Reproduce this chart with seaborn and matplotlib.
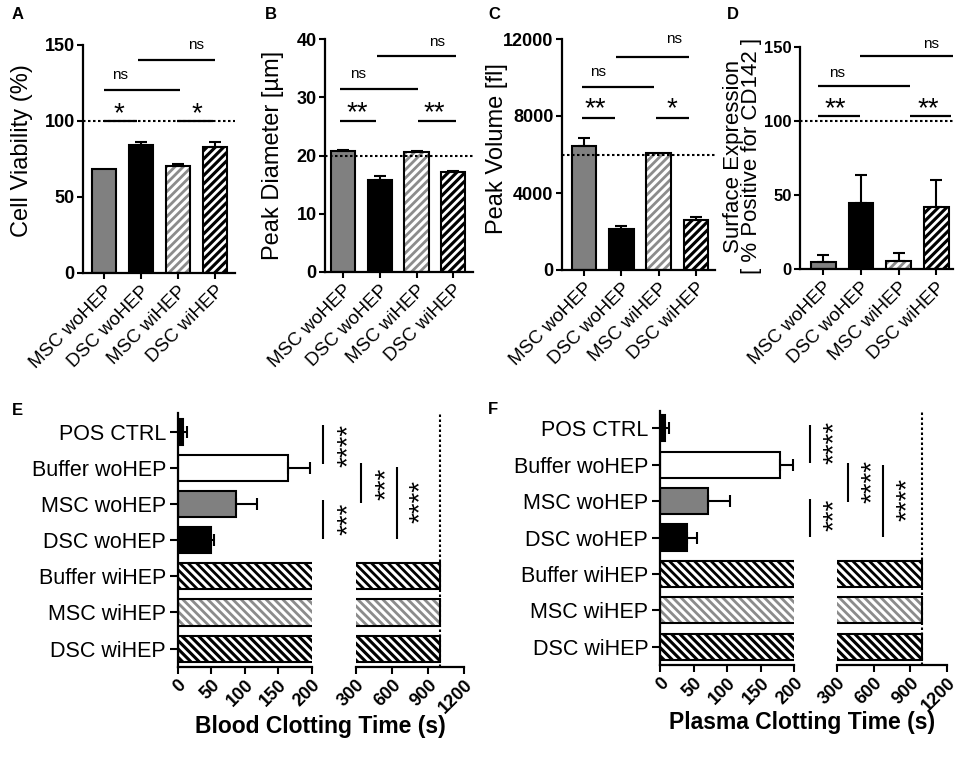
import numpy as np
import pandas as pd
import matplotlib
matplotlib.use("Agg")
import matplotlib.pyplot as plt
import seaborn as sns
from matplotlib.patches import Rectangle
from matplotlib.transforms import blended_transform_factory, offset_copy

# ---------------- data ----------------
cell_groups = ["MSC woHEP", "DSC woHEP", "MSC wiHEP", "DSC wiHEP"]
viability_mean = [68.5, 84.0, 70.6, 83.2]
viability_err = [0.0, 2.0, 1.0, 2.8]
diameter_mean = [20.8, 15.8, 20.6, 17.2]
diameter_err = [0.2, 0.7, 0.15, 0.1]
volume_mean = [6450, 2110, 6100, 2600]
volume_err = [420, 170, 0, 170]
cd142_mean = [4.7, 44.5, 5.6, 42.2]
cd142_err = [4.9, 19.0, 5.2, 18.0]

clot_groups = ["POS CTRL", "Buffer woHEP", "MSC woHEP", "DSC woHEP",
               "Buffer wiHEP", "MSC wiHEP", "DSC wiHEP"]
blood_mean = [8, 164, 87, 49.5, 1000, 1000, 1000]
blood_err = [6, 34, 31.5, 5, 0, 0, 0]
plasma_mean = [8, 178.7, 72, 40.7, 1000, 1000, 1000]
plasma_err = [6, 20, 32, 15, 0, 0, 0]

viability_ref = 100
diameter_ref = 20
volume_ref = 6000
cd142_ref = 100
clot_ref = 1000

# ---------------- style ----------------
sns.set_theme(style="ticks")
plt.rcParams["font.family"] = ["Liberation Sans", "DejaVu Sans"]
plt.rcParams["hatch.linewidth"] = 2.0
plt.rcParams["axes.linewidth"] = 1.6
plt.rcParams["xtick.major.width"] = 1.5
plt.rcParams["ytick.major.width"] = 1.5
plt.rcParams["xtick.color"] = "black"
plt.rcParams["ytick.color"] = "black"
plt.rcParams["axes.edgecolor"] = "black"
plt.rcParams["text.color"] = "black"
plt.rcParams["axes.labelcolor"] = "black"

cell_fill = ["#808080", "black", "white", "black"]
cell_hatch = [None, None, "////", "////"]
cell_hcol = [None, None, "#8c8c8c", "white"]
clot_fill = ["black", "white", "#808080", "black", "white", "white", "black"]
clot_hatch = [None, None, None, None, "\\\\\\\\", "\\\\\\\\", "\\\\\\\\"]
clot_hcol = [None, None, None, None, "black", "#8c8c8c", "white"]

W, H = 957, 760
fig = plt.figure(figsize=(W / 100, H / 100), dpi=100)


def px_axes(l, t, r, b):
    return fig.add_axes([l / W, 1 - b / H, (r - l) / W, (b - t) / H])


def draw_bars(ax, groups, values, fills, hatches, hcols, orient, width):
    df = pd.DataFrame({"group": groups, "value": values})
    kw = dict(data=df, hue="group", order=groups, hue_order=groups,
              palette=dict(zip(groups, fills)), saturation=1, width=width,
              errorbar=None, legend=False, linewidth=0, ax=ax)
    if orient == "v":
        sns.barplot(x="group", y="value", **kw)
    else:
        sns.barplot(x="value", y="group", orient="h", **kw)
    bars = list(ax.patches)
    for p, h, hc in zip(bars, hatches, hcols):
        if h:
            p.set_hatch(h)
            p.set_edgecolor(hc)
            p.set_linewidth(0)
    for p in bars:
        ax.add_patch(Rectangle(p.get_xy(), p.get_width(), p.get_height(),
                               fill=False, ec="black", lw=1.5,
                               zorder=p.get_zorder() + 0.5))
    return bars


def add_err(ax, bars, values, errs, orient):
    for p, v, e in zip(bars, values, errs):
        if e <= 0:
            continue
        if orient == "v":
            c = p.get_x() + p.get_width() / 2
            ax.errorbar([c], [v], yerr=[[0], [e]], fmt="none", ecolor="black",
                        elinewidth=1.5, capsize=4.5, capthick=1.5, zorder=5)
        else:
            c = p.get_y() + p.get_height() / 2
            ax.errorbar([v], [c], xerr=[[0], [e]], fmt="none", ecolor="black",
                        elinewidth=1.5, capsize=4.5, capthick=1.5, zorder=5)


def sig_h(ax, x0, x1, y):
    ax.plot([x0, x1], [y, y], color="black", lw=1.6, clip_on=False,
            solid_capstyle="butt", zorder=6)


def sig_text(ax, x, y, s):
    if "*" in s:
        tr = offset_copy(ax.transData, fig=fig, y=-8, units="dots")
        ax.text(x, y, s, transform=tr, fontsize=20, ha="center", va="center")
    else:
        ax.text(x, y, s, fontsize=11, ha="center", va="center")


def vertical_panel(box, values, errs, ref, ylim, yticks, xlim, sigs, texts, ytick_size=13):
    ax = px_axes(*box)
    bars = draw_bars(ax, cell_groups, values, cell_fill, cell_hatch, cell_hcol, "v", 0.66)
    add_err(ax, bars, values, errs, "v")
    ax.axhline(ref, color="black", lw=1.5, ls=(0, (1.2, 1.2)), zorder=4)
    ax.set_xlim(*xlim)
    ax.set_ylim(*ylim)
    ax.set_yticks(yticks)
    ax.set_xlabel("")
    ax.set_ylabel("")
    sns.despine(ax=ax)
    ax.tick_params(axis="both", direction="out", length=4, width=1.5, pad=2)
    ax.tick_params(axis="y", labelsize=ytick_size)
    for t in ax.get_yticklabels():
        t.set_fontweight("bold")
    ax.set_xticks(range(len(cell_groups)))
    ax.set_xticklabels(cell_groups, rotation=45, ha="right",
                       rotation_mode="anchor", fontsize=13.5)
    ax.tick_params(axis="x", pad=3)
    for x0, x1, y in sigs:
        sig_h(ax, x0, x1, y)
    for x, y, s in texts:
        sig_text(ax, x, y, s)
    return ax


# Panel A
vertical_panel((83, 45, 235, 273), viability_mean, viability_err, viability_ref,
               (0, 150), [0, 50, 100, 150], (-0.57, 3.54),
               [(0, 0.9, 100), (1.97, 2.95, 100), (0, 2.05, 120.4), (0.92, 3.0, 140)],
               [(0.39, 110, "*"), (2.5, 110, "*"), (0.43, 130, "ns"), (2.5, 150, "ns")])
# Panel B
vertical_panel((325, 39, 473, 272), diameter_mean, diameter_err, diameter_ref,
               (0, 40), [0, 10, 20, 30, 40], (-0.5, 3.54),
               [(-0.09, 0.89, 26), (2.04, 3.07, 26), (-0.09, 2.04, 31.5), (0.92, 3.07, 37)],
               [(0.39, 28.6, "**"), (2.47, 28.6, "**"), (0.4, 34, "ns"), (2.55, 39.5, "ns")])
# Panel C
vertical_panel((561.7, 39, 715, 270), volume_mean, volume_err, volume_ref,
               (0, 12000), [0, 4000, 8000, 12000], (-0.6, 3.51),
               [(-0.06, 0.83, 7900), (1.92, 2.8, 7900), (-0.06, 1.88, 9522), (0.86, 2.8, 11080)],
               [(0.3, 8743, "**"), (2.35, 8743, "*"), (0.38, 10300, "ns"), (2.4, 12000, "ns")])
# Panel D
vertical_panel((800, 46.7, 953, 269.3), cd142_mean, cd142_err, cd142_ref,
               (0, 150), [0, 50, 100, 150], (-0.62, 3.44),
               [(-0.13, 0.97, 103.5), (2.3, 3.4, 103.5), (-0.13, 2.3, 123.5), (0.97, 3.44, 143.5)],
               [(0.31, 113, "**"), (2.79, 113, "**"), (0.36, 132, "ns"), (2.87, 152, "ns")],
               ytick_size=12)

# y labels
fig.text(22 / W, 1 - 151 / H, "Cell Viability (%)", rotation=90, ha="center", va="center", fontsize=17)
fig.text(273 / W, 1 - 155 / H, "Peak Diameter [µm]", rotation=90, ha="center", va="center", fontsize=17)
fig.text(496.7 / W, 1 - 149 / H, "Peak Volume [fl]", rotation=90, ha="center", va="center", fontsize=17)
fig.text(733 / W, 1 - 156 / H, "Surface Expression", rotation=90, ha="center", va="center", fontsize=16)
fig.text(752 / W, 1 - 156 / H, "[ % Positive for CD142 ]", rotation=90, ha="center", va="center", fontsize=16)


def clot_panel(left_box, right_box, top, bottom, ylim, values, errs, sig_lines, sig_texts):
    axL = px_axes(left_box[0], top, left_box[1], bottom)
    axR = px_axes(right_box[0], top, right_box[1], bottom)
    barsL = draw_bars(axL, clot_groups, values, clot_fill, clot_hatch, clot_hcol, "h", 0.72)
    add_err(axL, barsL, values, errs, "h")
    draw_bars(axR, clot_groups, values, clot_fill, clot_hatch, clot_hcol, "h", 0.72)
    axR.axvline(clot_ref, color="black", lw=1.5, ls=(0, (1.2, 1.2)), zorder=4)
    for ax in (axL, axR):
        ax.set_ylim(*ylim)
        ax.set_xlabel("")
        ax.set_ylabel("")
        sns.despine(ax=ax)
        ax.tick_params(axis="x", direction="out", length=5, width=1.5, pad=2, labelsize=13)
    axL.set_xlim(0, 200)
    axL.set_xticks([0, 50, 100, 150, 200])
    axR.set_xlim(300, 1200)
    axR.set_xticks([300, 600, 900, 1200])
    for ax in (axL, axR):
        for t in ax.get_xticklabels():
            t.set_rotation(45)
            t.set_ha("right")
            t.set_rotation_mode("anchor")
            t.set_fontweight("bold")
    axL.set_yticks(range(len(clot_groups)))
    axL.set_yticklabels(clot_groups, fontsize=15.5)
    axL.tick_params(axis="y", direction="out", length=5.5, width=1.5, pad=3)
    axR.spines["left"].set_visible(False)
    axR.tick_params(axis="y", left=False, labelleft=False)
    tr = blended_transform_factory(axR.transAxes, axR.transData)
    for x, y0, y1 in sig_lines:
        axR.plot([x, x], [y0, y1], transform=tr, color="black", lw=1.5,
                 clip_on=False, solid_capstyle="butt")
    tr_t = offset_copy(tr, fig=fig, x=8, units="dots")
    for x, y, s in sig_texts:
        axR.text(x, y, s, transform=tr_t, rotation=90, fontsize=20,
                 ha="center", va="center")
    return axL, axR


# Panel E
clot_panel((177.7, 311.7), (356, 464.3), 413, 666.7, (6.5, -0.52), blood_mean, blood_err,
           [(-0.302, -0.19, 0.9), (0.046, 0.875, 1.98), (-0.302, 1.89, 2.97), (0.376, 0.97, 2.97)],
           [(-0.141, 0.37, "****"), (0.206, 1.43, "***"), (-0.141, 2.4, "***"), (0.524, 1.94, "****")])
# Panel F
clot_panel((660, 794.3), (837.3, 946.7), 411, 665, (6.5, -0.475), plasma_mean, plasma_err,
           [(-0.251, -0.09, 0.96), (0.095, 0.96, 2.02), (-0.251, 1.94, 2.99), (0.42, 1.01, 2.99)],
           [(-0.097, 0.4, "****"), (0.253, 1.47, "****"), (-0.097, 2.38, "***"), (0.567, 1.95, "****")])

fig.text(320 / W, 1 - 727 / H, "Blood Clotting Time (s)", ha="center", va="center",
         fontsize=16.5, fontweight="bold")
fig.text(801.7 / W, 1 - 723 / H, "Plasma Clotting Time (s)", ha="center", va="center",
         fontsize=16.5, fontweight="bold")

# panel letters
for lab, x, y in [("A", 12, 7), ("B", 265, 7), ("C", 488, 7), ("D", 727, 7),
                  ("E", 12, 403), ("F", 488, 402)]:
    fig.text(x / W, 1 - y / H, lab, ha="left", va="top", fontsize=12, fontweight="bold")

fig.savefig("out.png", dpi=100)
